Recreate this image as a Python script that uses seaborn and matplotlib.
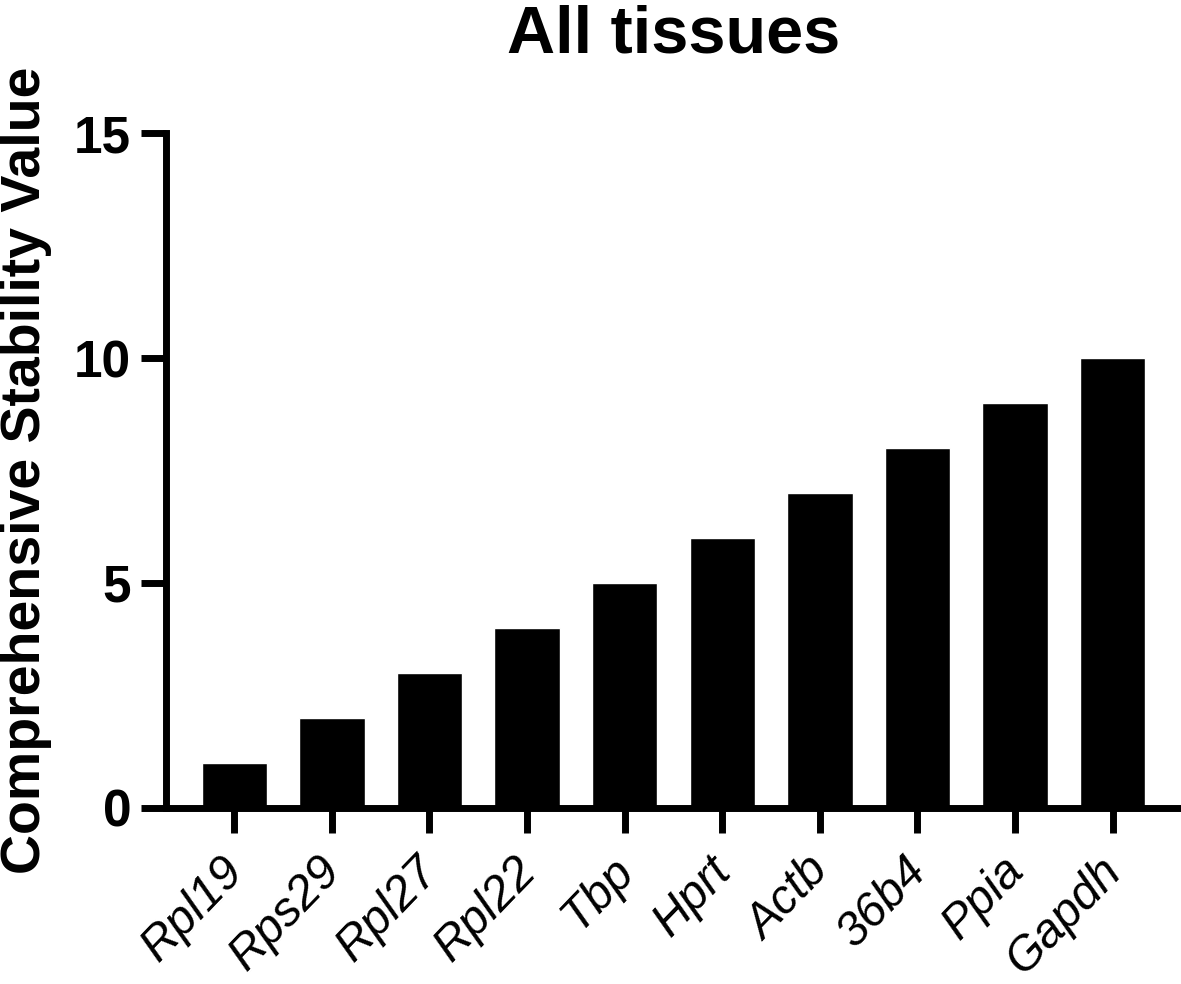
import matplotlib
matplotlib.use('Agg')
import matplotlib.pyplot as plt
import seaborn as sns
import pandas as pd

# Reference genes ranked by comprehensive stability
genes = ['Rpl19', 'Rps29', 'Rpl27', 'Rpl22', 'Tbp', 'Hprt', 'Actb', '36b4', 'Ppia', 'Gapdh']
stability = [1, 2, 3, 4, 5, 6, 7, 8, 9, 10]
y_ticks = [0, 5, 10, 15]

df = pd.DataFrame({'gene': genes, 'value': stability})

sns.set_style('ticks')
plt.rcParams['font.family'] = ['Liberation Sans', 'DejaVu Sans']
plt.rcParams['text.color'] = 'black'
plt.rcParams['axes.labelcolor'] = 'black'
plt.rcParams['xtick.color'] = 'black'
plt.rcParams['ytick.color'] = 'black'

fig = plt.figure(figsize=(11.81, 9.84), dpi=100)
ax = fig.add_axes([0.1405, 0.1789, 0.8595, 0.6859])

sns.barplot(data=df, x='gene', y='value', color='black', width=0.67,
            saturation=1, errorbar=None, ax=ax)

ax.set_xlim(-0.7, 9.7)
ax.set_ylim(0, 15)
ax.set_yticks(y_ticks)
ax.set_yticklabels([str(t) for t in y_ticks], fontsize=37, fontweight='bold')
ax.set_xticks(range(len(genes)))
ax.set_xticklabels([])

# gene names drawn under each tick, rotated, ending at the tick
for i, g in enumerate(genes):
    ax.annotate(g, xy=(i, 0), xycoords=('data', 'axes fraction'),
                xytext=(2, -56), textcoords='offset pixels',
                fontsize=34.5, fontstyle='italic', rotation=46,
                ha='right', va='center', rotation_mode='anchor',
                annotation_clip=False)

ax.set_title('All tissues', fontsize=48, fontweight='bold', pad=58)
ax.set_ylabel('Comprehensive Stability Value', fontsize=40, fontweight='bold', labelpad=16)
ax.set_xlabel('')

for side in ['top', 'right']:
    ax.spines[side].set_visible(False)
for side in ['left', 'bottom']:
    ax.spines[side].set_linewidth(5)
    ax.spines[side].set_color('black')
ax.tick_params(axis='both', width=5, length=18, color='black', pad=7)

fig.savefig('out.png', dpi=100)
